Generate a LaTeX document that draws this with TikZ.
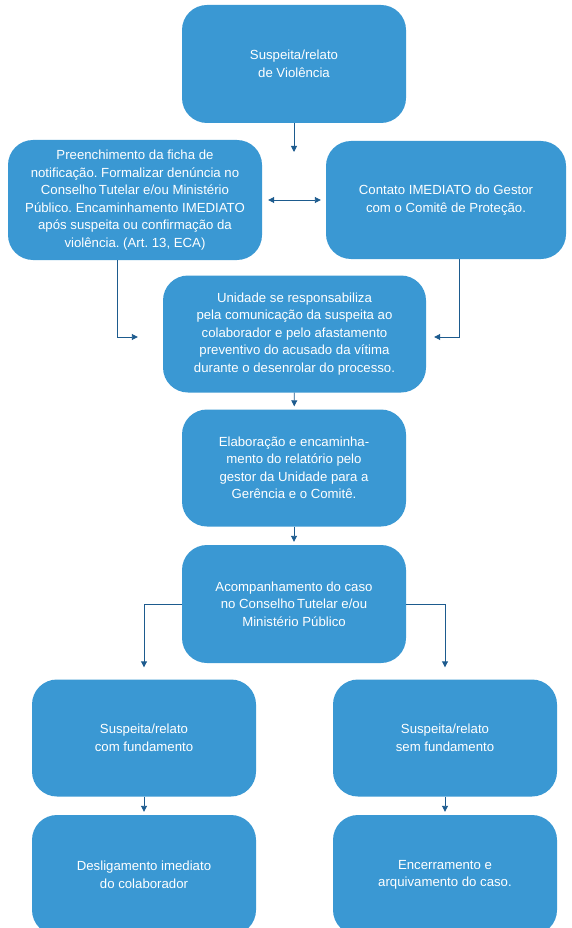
\documentclass[tikz,border=0pt]{standalone}
\usepackage{fontspec}
\setmainfont{Liberation Sans}
\usetikzlibrary{arrows.meta}
\definecolor{boxblue}{HTML}{3A98D3}
\definecolor{lineblue}{HTML}{1D5B8E}
\frenchspacing
\begin{document}
\begin{tikzpicture}
		[	x=1pt,y=-1pt,
		box/.style={rectangle,rounded corners=25pt,draw=none,fill=boxblue,text=white,align=center,
			inner sep=0pt,minimum width=224pt,minimum height=118pt,font=\fontsize{13.2}{17.5}\selectfont},
		arr/.style={draw=lineblue,line width=0.9pt,-{Triangle[length=6pt,width=6pt]}},
		dblarr/.style={draw=lineblue,line width=0.9pt,{Triangle[length=6pt,width=6pt]}-{Triangle[length=6pt,width=6pt]}}
		]
		\useasboundingbox (0,0) rectangle (572,928);

		\node[box] (relato) at (294,64){Suspeita/relato\\de Violência};
		\node[box,minimum width=254pt,minimum height=120pt] (ficha) at (135,200){Preenchimento da ficha de\\notificação. Formalizar denúncia no\\Conselho\,Tutelar e/ou Ministério\\Público. Encaminhamento IMEDIATO\\após suspeita ou confirmação da\\violência. (Art. 13, ECA)};
		\node[box,minimum width=240pt] (gestor) at (446,200){Contato IMEDIATO do Gestor\\com o Comitê de Proteção.};
		\node[box,minimum width=263pt,minimum height=117pt] (unidade) at (294.5,334){Unidade se responsabiliza\\pela comunicação da suspeita ao\\colaborador e pelo afastamento\\preventivo do acusado da vítima\\durante o desenrolar do processo.};
		\node[box,minimum height=117pt] (relatorio) at (294,468){Elaboração e encaminha-\\mento do relatório pelo\\gestor da Unidade para a\\Gerência e o Comitê.};
		\node[box] (acomp) at (294,604){Acompanhamento do caso\\no Conselho\,Tutelar e/ou\\Ministério Público};
		\node[box,minimum height=117pt] (comfund) at (144,738){Suspeita/relato\\com fundamento};
		\node[box,minimum height=117pt] (semfund) at (445,738){Suspeita/relato\\sem fundamento};
		\node[box,minimum height=120pt] (deslig) at (144,875){Desligamento imediato\\do colaborador};
		\node[box,minimum height=120pt] (encerra) at (445,875){Encerramento e\\arquivamento do caso.};

\coordinate (meio) at (294,152);
\draw[arr] (relato.south) -- (meio);
\draw[dblarr,shorten <=6pt,shorten >=5pt] (ficha.east) -- (gestor.west);
\draw[arr,shorten >=25pt] ([xshift=-18pt]ficha.south) |- ([yshift=-3pt]unidade.west);
\draw[arr,shorten >=8pt] ([xshift=13pt]gestor.south) |- ([yshift=-3pt]unidade.east);
\draw[arr,shorten >=3pt] (unidade) -- (relatorio);
\draw[arr,shorten >=3pt] (relatorio) -- (acomp);
\draw[arr,shorten >=12pt] (acomp.west) -| (comfund.north);
\draw[arr,shorten >=12pt] (acomp.east) -| (semfund.north);
\draw[arr,shorten >=3pt] (comfund) -- (deslig);
\draw[arr,shorten >=3pt] (semfund) -- (encerra);
	\end{tikzpicture}
\end{document}
